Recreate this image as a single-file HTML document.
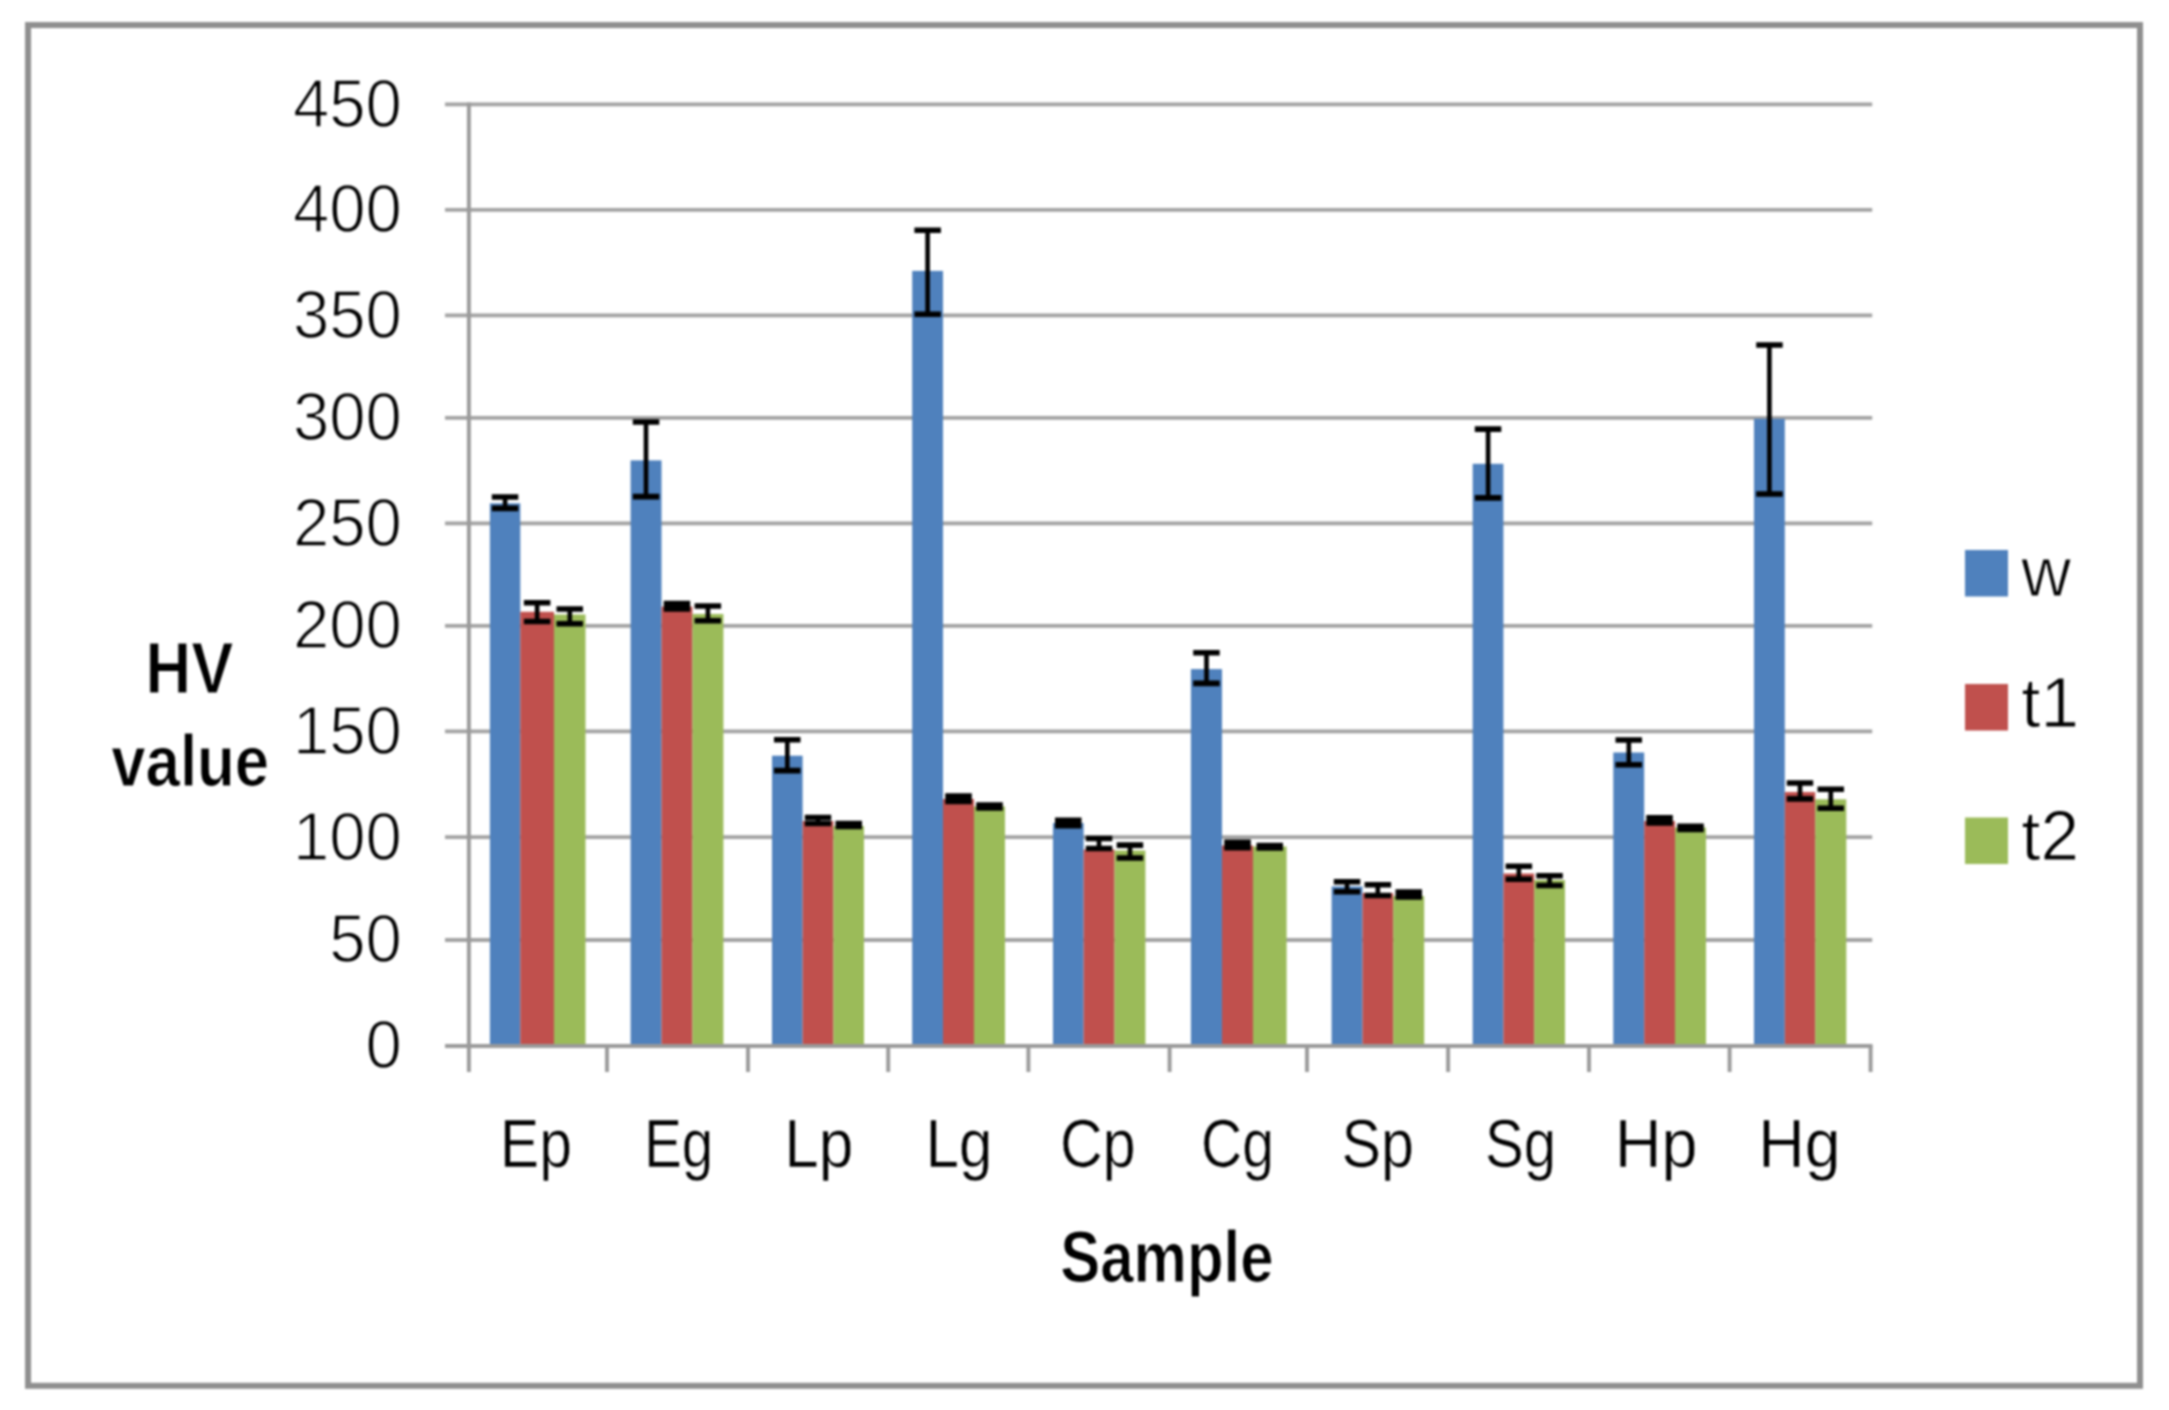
<!DOCTYPE html>
<html lang="en"><head><meta charset="utf-8"><title>HV value by sample</title>
<style>
html,body{margin:0;padding:0;background:#fff;}
body{width:2169px;height:1410px;overflow:hidden;}
svg{display:block;}
#chart{width:2169px;height:1410px;filter:blur(1px);}
text{font-family:"Liberation Sans",Arial,Helvetica,sans-serif;fill:#000;}
.r{stroke:#fff;stroke-width:1.5px;stroke-linejoin:round;vector-effect:non-scaling-stroke;}
.b{font-weight:700;stroke:#fff;stroke-width:1px;stroke-linejoin:round;vector-effect:non-scaling-stroke;}
</style></head><body><div id="chart">
<svg width="2169" height="1410" viewBox="0 0 2169 1410">
<rect x="0" y="0" width="2169" height="1410" fill="#fff"/>
<rect x="28.05" y="25.05" width="2111.95" height="1360.75" fill="none" stroke="#8f8f8f" stroke-width="6"/>
<g stroke="#a2a2a2" stroke-width="3.8" fill="none">
<line x1="445" y1="940.0" x2="1872.2" y2="940.0"/>
<line x1="445" y1="837.2" x2="1872.2" y2="837.2"/>
<line x1="445" y1="731.3" x2="1872.2" y2="731.3"/>
<line x1="445" y1="625.9" x2="1872.2" y2="625.9"/>
<line x1="445" y1="523.4" x2="1872.2" y2="523.4"/>
<line x1="445" y1="417.9" x2="1872.2" y2="417.9"/>
<line x1="445" y1="315.4" x2="1872.2" y2="315.4"/>
<line x1="445" y1="209.9" x2="1872.2" y2="209.9"/>
<line x1="445" y1="104.4" x2="1872.2" y2="104.4"/>
</g>
<rect x="489.9" y="503.3" width="30.4" height="541.7" fill="#4f81bd"/>
<rect x="520.3" y="611.8" width="33.7" height="433.2" fill="#c0504d"/>
<rect x="554.0" y="614.5" width="31.5" height="430.5" fill="#9bbb59"/>
<rect x="630.6" y="460.4" width="30.9" height="584.6" fill="#4f81bd"/>
<rect x="661.5" y="606.6" width="30.9" height="438.4" fill="#c0504d"/>
<rect x="692.4" y="614.0" width="31.0" height="431.0" fill="#9bbb59"/>
<rect x="772.0" y="755.7" width="30.6" height="289.3" fill="#4f81bd"/>
<rect x="802.6" y="821.0" width="30.8" height="224.0" fill="#c0504d"/>
<rect x="833.4" y="826.0" width="30.6" height="219.0" fill="#9bbb59"/>
<rect x="912.2" y="270.9" width="30.8" height="774.1" fill="#4f81bd"/>
<rect x="943.0" y="799.0" width="31.0" height="246.0" fill="#c0504d"/>
<rect x="974.0" y="806.4" width="31.0" height="238.6" fill="#9bbb59"/>
<rect x="1053.0" y="823.0" width="30.6" height="222.0" fill="#4f81bd"/>
<rect x="1083.6" y="849.5" width="30.9" height="195.5" fill="#c0504d"/>
<rect x="1114.5" y="850.5" width="30.9" height="194.5" fill="#9bbb59"/>
<rect x="1190.9" y="669.1" width="31.1" height="375.9" fill="#4f81bd"/>
<rect x="1222.0" y="845.5" width="31.0" height="199.5" fill="#c0504d"/>
<rect x="1253.0" y="846.5" width="33.6" height="198.5" fill="#9bbb59"/>
<rect x="1331.6" y="886.4" width="30.9" height="158.6" fill="#4f81bd"/>
<rect x="1362.5" y="893.0" width="30.7" height="152.0" fill="#c0504d"/>
<rect x="1393.2" y="896.0" width="31.0" height="149.0" fill="#9bbb59"/>
<rect x="1472.7" y="463.8" width="30.7" height="581.2" fill="#4f81bd"/>
<rect x="1503.4" y="873.5" width="30.8" height="171.5" fill="#c0504d"/>
<rect x="1534.2" y="880.0" width="30.8" height="165.0" fill="#9bbb59"/>
<rect x="1613.3" y="752.5" width="30.9" height="292.5" fill="#4f81bd"/>
<rect x="1644.2" y="821.0" width="30.8" height="224.0" fill="#c0504d"/>
<rect x="1675.0" y="827.5" width="31.0" height="217.5" fill="#9bbb59"/>
<rect x="1754.0" y="418.8" width="30.8" height="626.2" fill="#4f81bd"/>
<rect x="1784.8" y="792.0" width="30.4" height="253.0" fill="#c0504d"/>
<rect x="1815.2" y="799.3" width="31.1" height="245.7" fill="#9bbb59"/>
<g stroke="#9a9a9a" stroke-width="3.9" fill="none">
<line x1="445" y1="1046.0" x2="1872.5" y2="1046.0"/>
<line x1="468.9" y1="102.5" x2="468.9" y2="1072"/>
<line x1="607.0" y1="1046.0" x2="607.0" y2="1072"/>
<line x1="748.0" y1="1046.0" x2="748.0" y2="1072"/>
<line x1="888.2" y1="1046.0" x2="888.2" y2="1072"/>
<line x1="1028.4" y1="1046.0" x2="1028.4" y2="1072"/>
<line x1="1169.6" y1="1046.0" x2="1169.6" y2="1072"/>
<line x1="1307.0" y1="1046.0" x2="1307.0" y2="1072"/>
<line x1="1448.1" y1="1046.0" x2="1448.1" y2="1072"/>
<line x1="1589.0" y1="1046.0" x2="1589.0" y2="1072"/>
<line x1="1729.6" y1="1046.0" x2="1729.6" y2="1072"/>
<line x1="1870.6" y1="1046.0" x2="1870.6" y2="1072"/>
</g>
<g stroke="#000" stroke-width="5.6" fill="none">
<path d="M491.8 497.0H518.3M491.8 508.4H518.3"/><path stroke-width="4.6" d="M505.1 497.0V508.4"/>
<path d="M523.9 602.8H550.4M523.9 621.5H550.4"/><path stroke-width="4.6" d="M537.1 602.8V621.5"/>
<path d="M556.5 609.0H583.0M556.5 623.8H583.0"/><path stroke-width="4.6" d="M569.8 609.0V623.8"/>
<path d="M632.8 422.0H659.3M632.8 496.6H659.3"/><path stroke-width="4.6" d="M646.0 422.0V496.6"/>
<path d="M663.7 603.5H690.2M663.7 609.0H690.2"/><path stroke-width="4.6" d="M677.0 603.5V609.0"/>
<path d="M694.6 606.0H721.1M694.6 620.8H721.1"/><path stroke-width="4.6" d="M707.9 606.0V620.8"/>
<path d="M774.0 739.8H800.5M774.0 770.6H800.5"/><path stroke-width="4.6" d="M787.3 739.8V770.6"/>
<path d="M804.8 817.5H831.2M804.8 823.5H831.2"/><path stroke-width="4.6" d="M818.0 817.5V823.5"/>
<path d="M835.5 823.5H862.0M835.5 826.5H862.0"/><path stroke-width="4.6" d="M848.7 823.5V826.5"/>
<path d="M914.4 230.2H940.9M914.4 314.3H940.9"/><path stroke-width="4.6" d="M927.6 230.2V314.3"/>
<path d="M945.2 796.0H971.8M945.2 801.5H971.8"/><path stroke-width="4.6" d="M958.5 796.0V801.5"/>
<path d="M976.2 805.0H1002.8M976.2 808.0H1002.8"/><path stroke-width="4.6" d="M989.5 805.0V808.0"/>
<path d="M1055.0 820.2H1081.5M1055.0 825.8H1081.5"/><path stroke-width="4.6" d="M1068.3 820.2V825.8"/>
<path d="M1085.8 838.5H1112.3M1085.8 848.5H1112.3"/><path stroke-width="4.6" d="M1099.0 838.5V848.5"/>
<path d="M1116.7 845.1H1143.2M1116.7 858.0H1143.2"/><path stroke-width="4.6" d="M1130.0 845.1V858.0"/>
<path d="M1193.2 652.8H1219.7M1193.2 683.4H1219.7"/><path stroke-width="4.6" d="M1206.5 652.8V683.4"/>
<path d="M1224.2 842.4H1250.8M1224.2 847.6H1250.8"/><path stroke-width="4.6" d="M1237.5 842.4V847.6"/>
<path d="M1256.5 845.5H1283.0M1256.5 848.0H1283.0"/><path stroke-width="4.6" d="M1269.8 845.5V848.0"/>
<path d="M1333.8 881.7H1360.3M1333.8 891.7H1360.3"/><path stroke-width="4.6" d="M1347.0 881.7V891.7"/>
<path d="M1364.6 884.7H1391.1M1364.6 895.5H1391.1"/><path stroke-width="4.6" d="M1377.8 884.7V895.5"/>
<path d="M1395.5 892.0H1422.0M1395.5 897.0H1422.0"/><path stroke-width="4.6" d="M1408.7 892.0V897.0"/>
<path d="M1474.8 429.1H1501.3M1474.8 497.9H1501.3"/><path stroke-width="4.6" d="M1488.1 429.1V497.9"/>
<path d="M1505.6 866.3H1532.1M1505.6 879.2H1532.1"/><path stroke-width="4.6" d="M1518.8 866.3V879.2"/>
<path d="M1536.3 875.8H1562.8M1536.3 885.5H1562.8"/><path stroke-width="4.6" d="M1549.6 875.8V885.5"/>
<path d="M1615.5 740.0H1642.0M1615.5 764.7H1642.0"/><path stroke-width="4.6" d="M1628.8 740.0V764.7"/>
<path d="M1646.3 817.7H1672.8M1646.3 823.0H1672.8"/><path stroke-width="4.6" d="M1659.6 817.7V823.0"/>
<path d="M1677.2 826.3H1703.8M1677.2 829.5H1703.8"/><path stroke-width="4.6" d="M1690.5 826.3V829.5"/>
<path d="M1756.2 345.0H1782.7M1756.2 494.0H1782.7"/><path stroke-width="4.6" d="M1769.4 345.0V494.0"/>
<path d="M1786.8 783.0H1813.2M1786.8 798.9H1813.2"/><path stroke-width="4.6" d="M1800.0 783.0V798.9"/>
<path d="M1817.5 789.2H1844.0M1817.5 808.2H1844.0"/><path stroke-width="4.6" d="M1830.8 789.2V808.2"/>
</g>
<text class="r" font-size="68.2" text-anchor="end" transform="translate(401.9 1068.4) scale(0.958 1)">0</text>
<text class="r" font-size="68.2" text-anchor="end" transform="translate(401.9 962.4) scale(0.958 1)">50</text>
<text class="r" font-size="68.2" text-anchor="end" transform="translate(401.9 859.6) scale(0.958 1)">100</text>
<text class="r" font-size="68.2" text-anchor="end" transform="translate(401.9 753.7) scale(0.958 1)">150</text>
<text class="r" font-size="68.2" text-anchor="end" transform="translate(401.9 648.3) scale(0.958 1)">200</text>
<text class="r" font-size="68.2" text-anchor="end" transform="translate(401.9 545.8) scale(0.958 1)">250</text>
<text class="r" font-size="68.2" text-anchor="end" transform="translate(401.9 440.3) scale(0.958 1)">300</text>
<text class="r" font-size="68.2" text-anchor="end" transform="translate(401.9 337.8) scale(0.958 1)">350</text>
<text class="r" font-size="68.2" text-anchor="end" transform="translate(401.9 232.3) scale(0.958 1)">400</text>
<text class="r" font-size="68.2" text-anchor="end" transform="translate(401.9 126.8) scale(0.958 1)">450</text>
<text class="r" style="stroke-width:0.6px" font-size="68.2" text-anchor="middle" transform="translate(535.9 1167.2) scale(0.862 1)">Ep</text>
<text class="r" style="stroke-width:0.6px" font-size="68.2" text-anchor="middle" transform="translate(678.6 1167.2) scale(0.826 1)">Eg</text>
<text class="r" style="stroke-width:0.6px" font-size="68.2" text-anchor="middle" transform="translate(818.8 1167.2) scale(0.913 1)">Lp</text>
<text class="r" style="stroke-width:0.6px" font-size="68.2" text-anchor="middle" transform="translate(959.1 1167.2) scale(0.877 1)">Lg</text>
<text class="r" style="stroke-width:0.6px" font-size="68.2" text-anchor="middle" transform="translate(1097.8 1167.2) scale(0.867 1)">Cp</text>
<text class="r" style="stroke-width:0.6px" font-size="68.2" text-anchor="middle" transform="translate(1237.4 1167.2) scale(0.836 1)">Cg</text>
<text class="r" style="stroke-width:0.6px" font-size="68.2" text-anchor="middle" transform="translate(1377.7 1167.2) scale(0.867 1)">Sp</text>
<text class="r" style="stroke-width:0.6px" font-size="68.2" text-anchor="middle" transform="translate(1520.5 1167.2) scale(0.852 1)">Sg</text>
<text class="r" style="stroke-width:0.6px" font-size="68.2" text-anchor="middle" transform="translate(1656.2 1167.2) scale(0.949 1)">Hp</text>
<text class="r" style="stroke-width:0.6px" font-size="68.2" text-anchor="middle" transform="translate(1799.3 1167.2) scale(0.944 1)">Hg</text>
<text class="b" font-size="71.5" text-anchor="middle" transform="translate(189.4 692.6) scale(0.885 1)">HV</text>
<text class="b" font-size="71.5" text-anchor="middle" transform="translate(190.2 785.6) scale(0.865 1)">value</text>
<text class="b" font-size="71.5" text-anchor="middle" transform="translate(1166.9 1282.4) scale(0.839 1)">Sample</text>
<rect x="1965" y="550.0" width="43" height="46.5" fill="#4f81bd"/>
<text class="r" style="stroke-width:1.1px" font-size="70" transform="translate(2021.3 596.3) scale(0.985 1)">w</text>
<rect x="1965" y="684.0" width="43" height="46.5" fill="#c0504d"/>
<text class="r" style="stroke-width:1.1px" font-size="70" transform="translate(2021.3 727.2) scale(0.990 1)">t1</text>
<rect x="1965" y="817.5" width="43" height="46.5" fill="#9bbb59"/>
<text class="r" style="stroke-width:1.1px" font-size="70" transform="translate(2021.3 860.3) scale(0.990 1)">t2</text>
</svg>
</div></body></html>
